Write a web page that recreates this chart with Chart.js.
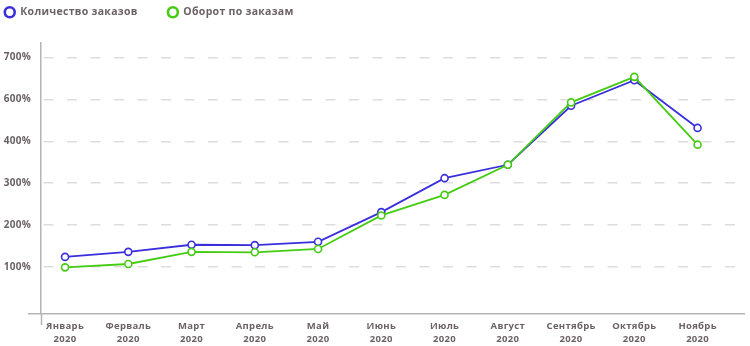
<!DOCTYPE html>
<html>
<head>
<meta charset="utf-8">
<script src="https://cdn.jsdelivr.net/npm/chart.js@4/dist/chart.umd.min.js"></script>
<style>
  html, body { margin: 0; padding: 0; background: #ffffff; }
  #wrap { width: 750px; height: 346px; position: relative; }
</style>
</head>
<body>
<div id="wrap"><canvas id="c"></canvas></div>
<script>
// ---- data ----
const months = ['Январь', 'Ферваль', 'Март', 'Апрель', 'Май', 'Июнь', 'Июль', 'Август', 'Сентябрь', 'Октябрь', 'Ноябрь'];
const years = ['2020', '2020', '2020', '2020', '2020', '2020', '2020', '2020', '2020', '2020', '2020'];
const orders = [124, 136, 153, 152, 160, 231, 312, 344, 485, 546, 432];
const turnover = [99, 107, 136, 135, 143, 223, 272, 344, 493, 554, 392];
const yTickValues = [100, 200, 300, 400, 500, 600];
const yTickLabels = ['100%', '200%', '300%', '400%', '600%', '700%'];
const seriesNames = ['Количество заказов', 'Оборот по заказам'];

const textColor = '#6b6266';
const axisColor = '#b4b4b4';
const gridColor = '#dddddd';
const blue = '#3a2fdc';
const green = '#45cc12';

const X_MIN = -0.38, X_MAX = 10.74;
const Y_MIN = -12.4, Y_MAX = 636;
const LS = '0.3px';

const toPoints = arr => arr.map((v, i) => ({ x: i, y: v }));

const spacingPlugin = {
  id: 'spacing',
  beforeInit(chart) { chart.ctx.letterSpacing = LS; },
  beforeUpdate(chart) { chart.ctx.letterSpacing = LS; },
  beforeLayout(chart) { chart.ctx.letterSpacing = LS; },
  beforeDraw(chart) { chart.ctx.letterSpacing = LS; }
};

Chart.defaults.font.family = '"Open Sans", sans-serif';
Chart.defaults.font.weight = 'bold';
Chart.defaults.color = textColor;

new Chart(document.getElementById('c'), {
  type: 'line',
  data: {
    datasets: [
      {
        label: seriesNames[0],
        data: toPoints(orders),
        borderColor: blue,
        backgroundColor: '#ffffff',
        borderWidth: 1.8,
        pointRadius: 3.5,
        pointBorderWidth: 1.6,
        pointBackgroundColor: '#ffffff',
        pointBorderColor: blue,
        tension: 0,
        order: 1
      },
      {
        label: seriesNames[1],
        data: toPoints(turnover),
        borderColor: green,
        backgroundColor: '#ffffff',
        borderWidth: 1.8,
        pointRadius: 3.5,
        pointBorderWidth: 1.6,
        pointBackgroundColor: '#ffffff',
        pointBorderColor: green,
        tension: 0,
        order: 0
      }
    ]
  },
  options: {
    responsive: true,
    maintainAspectRatio: false,
    animation: false,
    layout: { padding: { top: -23, left: -25.5, right: 5, bottom: 0 } },
    plugins: {
      tooltip: { enabled: false },
      title: {
        display: true,
        text: '',
        weight: 500,
        position: 'top',
        font: { size: 1, lineHeight: 1 },
        padding: { top: 14, bottom: 0 }
      },
      legend: {
        position: 'top',
        align: 'start',
        labels: {
          usePointStyle: true,
          pointStyle: 'circle',
          boxWidth: 11,
          boxHeight: 7,
          padding: 30,
          color: textColor,
          font: { size: 10.5, weight: 'bold' },
          sort: (a, b) => a.datasetIndex - b.datasetIndex,
          generateLabels(chart) {
            const items = Chart.defaults.plugins.legend.labels.generateLabels(chart);
            items.forEach(it => { it.lineWidth = 2.6; it.fillStyle = '#ffffff'; });
            return items;
          }
        }
      }
    },
    scales: {
      x: {
        type: 'linear',
        bounds: 'data',
        min: X_MIN,
        max: X_MAX,
        afterBuildTicks(scale) {
          scale.ticks = [{ value: X_MIN }].concat(months.map((m, i) => ({ value: i })));
        },
        afterFit(scale) { scale.height = 32; },
        border: { display: true, color: axisColor, width: 1.5 },
        grid: {
          drawOnChartArea: false,
          drawTicks: true,
          tickLength: 11,
          tickWidth: 1.5,
          tickColor: ctx => (ctx.tick && ctx.tick.value === X_MIN) ? axisColor : 'rgba(0,0,0,0)'
        },
        ticks: {
          autoSkip: false,
          maxRotation: 0,
          minRotation: 0,
          padding: -6,
          color: textColor,
          font: { size: 9.5, weight: 'bold', lineHeight: 1.45 },
          callback(value) {
            if (value === X_MIN || !Number.isInteger(value)) return '';
            return [months[value], years[value]];
          }
        }
      },
      y: {
        type: 'linear',
        bounds: 'data',
        min: Y_MIN,
        max: Y_MAX,
        afterBuildTicks(scale) {
          scale.ticks = [{ value: Y_MIN }].concat(yTickValues.map(v => ({ value: v })));
        },
        afterFit(scale) { scale.width = 66.5; },
        border: { display: true, color: axisColor, width: 1.5, dash: [10, 13.5], dashOffset: 21.5 },
        grid: {
          drawOnChartArea: true,
          drawTicks: true,
          tickLength: 13,
          lineWidth: 1.5,
          tickWidth: 1.5,
          tickBorderDash: [],
          color: ctx => (ctx.tick && ctx.tick.value === Y_MIN) ? 'rgba(0,0,0,0)' : gridColor,
          tickColor: ctx => (ctx.tick && ctx.tick.value === Y_MIN) ? axisColor : 'rgba(0,0,0,0)'
        },
        ticks: {
          padding: -3,
          color: textColor,
          font: { size: 10, weight: 'bold' },
          callback(value) {
            const idx = yTickValues.indexOf(value);
            return idx >= 0 ? yTickLabels[idx] : '';
          }
        }
      }
    }
  },
  plugins: [spacingPlugin]
});
</script>
</body>
</html>
